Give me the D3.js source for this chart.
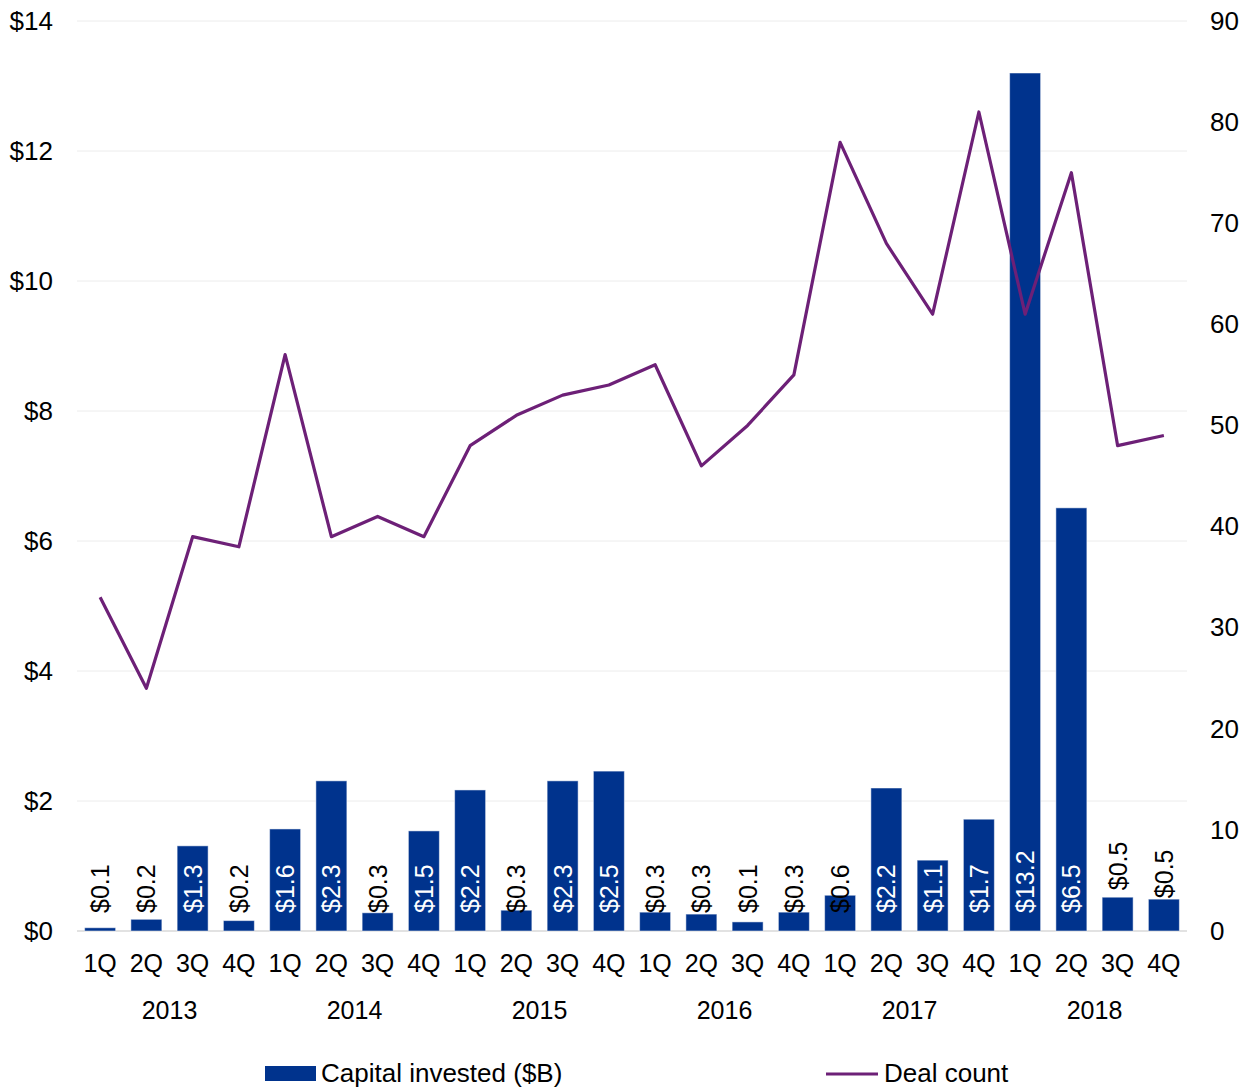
<!DOCTYPE html>
<html>
<head>
<meta charset="utf-8">
<script src="https://cdnjs.cloudflare.com/ajax/libs/d3/7.8.5/d3.min.js"></script>
<style>
  body { margin: 0; background: #fff; }
  svg { font-family: "Liberation Sans", Arial, sans-serif; }
</style>
</head>
<body>
<div id="chart"></div>
<script>
// Data
const quarters = ["1Q", "2Q", "3Q", "4Q"];
const years = ["2013", "2014", "2015", "2016", "2017", "2018"];
const capital = [0.05, 0.18, 1.31, 0.16, 1.57, 2.31, 0.28, 1.54, 2.17, 0.32, 2.31, 2.46,
                 0.29, 0.26, 0.14, 0.29, 0.55, 2.2, 1.09, 1.72, 13.2, 6.51, 0.52, 0.49];
const capitalLabels = ["$0.1", "$0.2", "$1.3", "$0.2", "$1.6", "$2.3", "$0.3", "$1.5", "$2.2", "$0.3", "$2.3", "$2.5",
                       "$0.3", "$0.3", "$0.1", "$0.3", "$0.6", "$2.2", "$1.1", "$1.7", "$13.2", "$6.5", "$0.5", "$0.5"];
const deals = [33, 24, 39, 38, 57, 39, 41, 39, 48, 51, 53, 54,
               56, 46, 50, 55, 78, 68, 61, 81, 61, 75, 48, 49];
const leftTicks = [0, 2, 4, 6, 8, 10, 12, 14];
const rightTicks = [0, 10, 20, 30, 40, 50, 60, 70, 80, 90];

const barColor = "#00338D";
const lineColor = "#6D2077";

const width = 1257, height = 1088;
const margin = { top: 21, right: 70, bottom: 157, left: 77 };
const innerW = 1187 - margin.left;
const innerH = 931 - margin.top;

const cats = [];
years.forEach(y => quarters.forEach(q => cats.push(y + "-" + q)));

const svg = d3.select("#chart").append("svg")
  .attr("width", width)
  .attr("height", height);

const g = svg.append("g")
  .attr("transform", "translate(" + margin.left + "," + margin.top + ")");

const x = d3.scaleBand().domain(cats).range([0, innerW]).paddingInner(0.33).paddingOuter(0.165);
const yL = d3.scaleLinear().domain([0, 14]).range([innerH, 0]);
const yR = d3.scaleLinear().domain([0, 90]).range([innerH, 0]);

// gridlines
g.append("g")
  .selectAll("line")
  .data(leftTicks)
  .join("line")
  .attr("x1", 0).attr("x2", innerW)
  .attr("y1", d => yL(d)).attr("y2", d => yL(d))
  .attr("stroke", d => d === 0 ? "#d9d9d9" : "#ececec")
  .attr("stroke-width", d => d === 0 ? 1.5 : 1);

// left axis
const leftAxis = d3.axisLeft(yL).tickValues(leftTicks).tickSize(0).tickPadding(24)
  .tickFormat(d => "$" + d);
g.append("g").call(leftAxis)
  .call(a => a.select(".domain").remove())
  .selectAll("text")
  .attr("font-size", 26).attr("fill", "#000");

// right axis
const rightAxis = d3.axisRight(yR).tickValues(rightTicks).tickSize(0).tickPadding(23);
g.append("g").attr("transform", "translate(" + innerW + ",0)").call(rightAxis)
  .call(a => a.select(".domain").remove())
  .selectAll("text")
  .attr("font-size", 26).attr("fill", "#000");

// bars
g.append("g")
  .selectAll("rect")
  .data(capital)
  .join("rect")
  .attr("x", (d, i) => x(cats[i]))
  .attr("width", x.bandwidth())
  .attr("y", d => yL(d))
  .attr("height", d => innerH - yL(d))
  .attr("fill", barColor)
  .attr("stroke", "#ffffff")
  .attr("stroke-opacity", 0.5)
  .attr("stroke-width", 1);

// bar labels (rotated)
g.append("g")
  .selectAll("text")
  .data(capital)
  .join("text")
  .attr("transform", (d, i) => {
    const cx = x(cats[i]) + x.bandwidth() / 2;
    const base = i >= 22 ? yL(d) - (i === 22 ? 7 : 1) : innerH - 18;
    return "translate(" + (cx + 9) + "," + base + ") rotate(-90)";
  })
  .attr("text-anchor", "start")
  .attr("font-size", 25)
  .attr("fill", d => d >= 1 ? "#fff" : "#000")
  .text((d, i) => capitalLabels[i]);

// line
const line = d3.line()
  .x((d, i) => x(cats[i]) + x.bandwidth() / 2)
  .y(d => yR(d));
g.append("path")
  .datum(deals)
  .attr("d", line)
  .attr("fill", "none")
  .attr("stroke", lineColor)
  .attr("stroke-width", 3.2)
  .attr("stroke-linejoin", "round");

// quarter labels
g.append("g")
  .selectAll("text")
  .data(cats)
  .join("text")
  .attr("x", d => x(d) + x.bandwidth() / 2)
  .attr("y", innerH + 41)
  .attr("text-anchor", "middle")
  .attr("font-size", 25)
  .text(d => d.split("-")[1]);

// year labels
g.append("g")
  .selectAll("text")
  .data(years)
  .join("text")
  .attr("x", d => {
    const a = x(d + "-1Q"), b = x(d + "-4Q") + x.bandwidth();
    return (a + b) / 2;
  })
  .attr("y", innerH + 88)
  .attr("text-anchor", "middle")
  .attr("font-size", 25)
  .text(d => d);

// legend
const legend = svg.append("g");
legend.append("rect")
  .attr("x", 265).attr("y", 1066).attr("width", 51).attr("height", 15)
  .attr("fill", barColor);
legend.append("text")
  .attr("x", 321).attr("y", 1082)
  .attr("font-size", 26)
  .text("Capital invested ($B)");
legend.append("line")
  .attr("x1", 826).attr("x2", 878).attr("y1", 1074).attr("y2", 1074)
  .attr("stroke", lineColor).attr("stroke-width", 3.2);
legend.append("text")
  .attr("x", 884).attr("y", 1082)
  .attr("font-size", 26)
  .text("Deal count");
</script>
</body>
</html>
